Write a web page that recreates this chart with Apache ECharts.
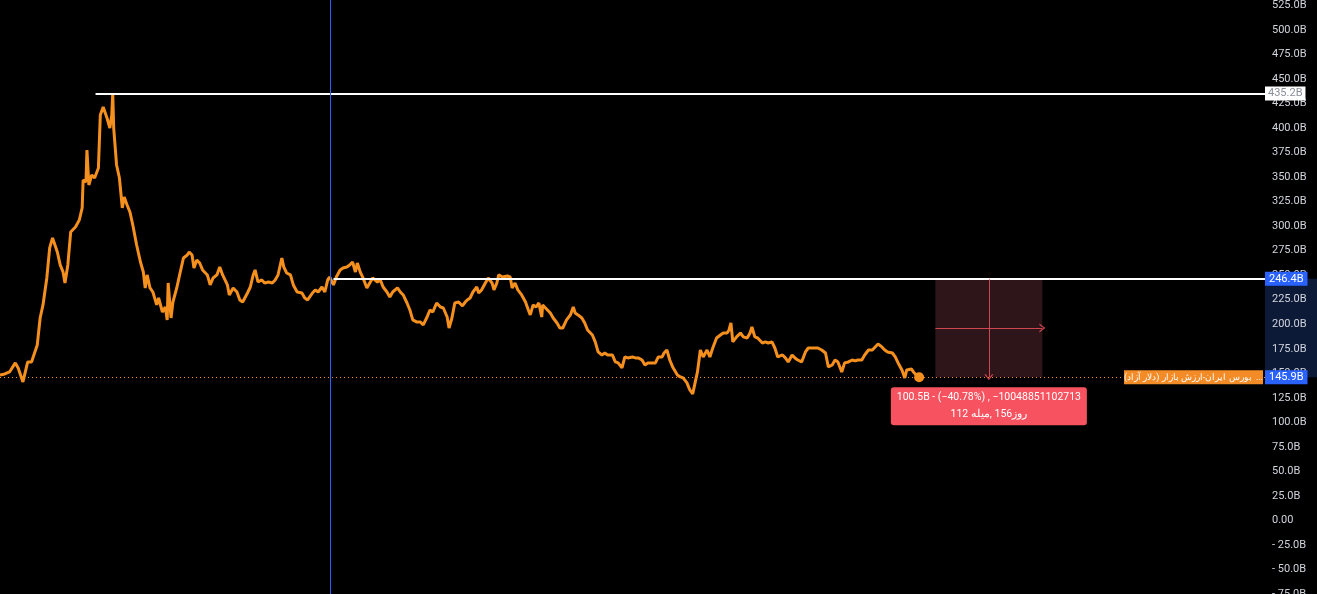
<!DOCTYPE html>
<html>
<head>
<meta charset="utf-8">
<script src="https://cdn.jsdelivr.net/npm/echarts@6/dist/echarts.min.js"></script>
<style>
html,body{margin:0;padding:0;background:#000;}
#chart{width:1317px;height:594px;}
</style>
</head>
<body>
<div id="chart"></div>
<script>
// bar index (time) of each sampled point
const barIndex = [0,5,10,16,19,24,29,33,39,42,45,49,52,55,60,63,66,68,71,74,79,83,86,87,90,91,93,96,99,103,105,108,112,115,117,118,119,122,125,128,130,133,136,139,143,147,150,152,154,157,160,164,166,170,173,175,176,179,181,185,188,192,196,198,201,203,206,209,212,217,220,223,227,230,233,238,240,
244,248,251,254,259,262,265,267,270,274,277,281,285,288,291,295,297,300,304,307,311,316,319,322,327,330,333,337,340,343,345,349,352,356,359,363,366,369,372,374,377,380,384,387,390,395,398,401,405,408,411,416,419,422,426,429,432,436,440,443,447,450,453,457,461,464,468,470,473,476,480,
484,487,489,492,495,499,501,504,508,511,515,517,520,522,526,531,534,536,539,542,546,550,553,555,558,561,564,567,568,573,576,579,583,586,589,593,597,600,602,605,609,612,615,620,623,626,630,633,636,641,644,647,651,654,657,662,665,668,672,675,678,682,686,689,693,695,698,701,704,709,712,715,719,722,725,730,733,736,740,743,746,750,754,757,761,763,765,767,771,
775,778,782,785,787,790,793,798,801,804,808,811,814,819,822,825,829,832,835,839,843,846,850,853,856,860,864,867,871,874,877,881,884,888,892,895,898,902,905,909,913,916,919,923,926,929,934,937,940,944,947,949,954,956,959,962];
// market value (billion USD)
const marketCap = [148.3,149.3,151.4,160.6,155.5,141.2,161.6,161.6,178.9,206.4,219.7,247.2,277.8,288.0,273.7,260.5,253.3,242.1,260.5,294.1,299.2,306.3,318.6,347.1,345.1,377.7,342.0,352.2,349.1,359.3,413.4,421.5,410.3,400.1,413.4,435.2,400.1,362.4,349.1,318.6,329.8,321.6,314.5,301.2,280.8,263.5,253.3,237.0,250.3,237.0,232.9,219.7,226.8,212.5,217.6,204.4,242.1,206.4,222.7,237.0,250.3,267.6,270.6,273.7,270.6,257.4,265.6,262.5,255.4,250.3,240.1,247.2,250.3,258.4,250.3,240.1,229.9,
237.0,232.9,224.8,222.7,231.9,238.0,250.3,255.4,243.1,245.2,242.1,243.1,242.1,245.2,250.3,267.6,258.4,252.3,250.3,240.1,232.9,231.9,226.8,224.8,231.9,235.0,232.9,238.0,232.9,245.2,248.2,240.1,248.2,255.4,257.4,258.4,260.5,263.5,253.3,262.5,253.3,247.2,237.0,242.1,247.2,243.1,245.2,238.0,232.9,227.8,232.9,237.0,232.9,229.9,221.7,214.6,204.4,202.4,202.4,199.3,207.4,214.6,212.5,221.7,217.6,216.6,207.4,196.2,206.4,221.7,222.7,
218.7,222.7,224.8,226.8,232.9,238.0,231.9,235.0,242.1,247.2,242.1,235.0,242.1,250.3,248.2,249.2,248.2,237.0,242.1,235.0,229.9,222.7,214.6,209.5,219.7,217.6,221.7,207.4,219.7,214.6,211.5,206.4,201.3,196.2,196.2,204.4,209.5,217.6,211.5,209.5,206.4,201.3,194.2,189.1,182.0,171.8,168.7,170.7,168.7,168.7,161.6,160.6,155.5,166.7,165.7,166.7,165.7,165.7,163.6,158.5,160.6,160.6,160.6,166.7,166.7,170.7,173.8,163.6,156.5,148.3,146.3,145.3,140.2,133.0,129.0,151.4,173.8,166.7,173.8,166.7,175.8,186.0,189.1,191.1,191.1,194.2,201.3,182.0,187.1,
191.1,187.1,186.0,191.1,197.3,187.1,186.0,180.9,182.0,180.9,182.0,175.8,166.7,168.7,165.7,161.6,168.7,165.7,163.6,161.6,171.8,175.8,175.8,175.8,175.8,173.8,170.7,156.5,158.5,163.6,161.6,151.4,160.6,161.6,163.6,162.6,163.6,163.6,168.7,173.8,173.8,176.9,179.9,176.9,173.8,171.8,170.7,166.7,160.6,153.4,145.3,153.4,154.4,151.4,148.3,145.9];

// annotation levels / bars
const levelHigh = 435.2, levelMid = 246.4, levelLast = 145.9;
const highStartBar = 100, midStartBar = 349, cursorBar = 346;
const measureStartBar = 979, measureEndBar = 1091;
const xMaxBar = 1324;
const yTicks = { min: -75, max: 530.6, interval: 25 };

// Persian texts, split into pieces in their on-screen (left-to-right) order
const seriesNamePieces = ['(دلار آزاد)', ' بازار ', 'ایران-ارزش', ' بورس ', ' ...'];
const measureLine1 = '100.5B - (\u221240.78%) , \u221210048851102713';
const measureLine2Pieces = ['112 ', 'میله', ', 156', 'روز'];

const ORANGE = '#f5901e';
const BLUE = '#2962ff';
const RED = '#f7525f';

const lineData = barIndex.map((b, i) => [b, marketCap[i]]);
const last = lineData[lineData.length - 1];
const mid = (measureStartBar + measureEndBar) / 2;
const midVal = (levelMid + levelLast) / 2;
const chevron = 'path://M0,10 L5,0 L10,10 L8.4,10 L5,3.2 L1.6,10 Z';

const richPieces = (pieces) => pieces.map((p, i) => '{p' + i + '|' + p + '}').join('');
const richStyles = (pieces, style) => {
  const r = {};
  pieces.forEach((p, i) => { r['p' + i] = Object.assign({}, style); });
  return r;
};

const chart = echarts.init(document.getElementById('chart'), null, {renderer: 'canvas'});
const option = {
  backgroundColor: '#000',
  animation: false,
  grid: {left: 0, right: 52, top: 0, bottom: 0, outerBoundsMode: 'none', containLabel: false},
  xAxis: {type: 'value', min: 0, max: xMaxBar, show: false, splitLine: {show: false}},
  yAxis: {
    type: 'value', position: 'right', min: yTicks.min, max: yTicks.max, interval: yTicks.interval,
    axisLine: {show: false}, axisTick: {show: false},
    splitLine: {show: false},
    axisLabel: {
      color: '#d1d4dc', fontSize: 11, fontFamily: 'Roboto', margin: 7, showMaxLabel: false,
      formatter: v => {
        if (Math.abs(v) < 1e-9) return '0.00';
        const s = Math.abs(v).toFixed(1) + 'B';
        return v < 0 ? '- ' + s : s;
      }
    }
  },
  series: [
    {
      type: 'line', data: lineData, showSymbol: false, silent: true,
      lineStyle: {color: ORANGE, width: 3}, itemStyle: {color: ORANGE},
      markArea: {
        silent: true,
        itemStyle: {color: '#2e1519'},
        data: [[{coord: [measureStartBar, levelMid]}, {coord: [measureEndBar, levelLast]}]]
      },
      markLine: {
        silent: true, symbol: ['none', 'none'], animation: false,
        data: [
          [{coord: [highStartBar, levelHigh], lineStyle: {color: '#ffffff', width: 2, type: 'solid'},
            label: {show: true, position: 'end', distance: 0, formatter: levelHigh.toFixed(1) + 'B', color: '#8a8e99', backgroundColor: '#ffffff', padding: [2, 3, 1, 3], fontSize: 11, fontFamily: 'Roboto'}},
           {coord: [xMaxBar, levelHigh]}],
          [{coord: [midStartBar, levelMid], lineStyle: {color: '#ffffff', width: 2, type: 'solid'},
            label: {show: true, position: 'end', distance: 0, formatter: levelMid.toFixed(1) + 'B', color: '#ffffff', backgroundColor: BLUE, padding: [2, 4, 1, 4], fontSize: 11, fontFamily: 'Roboto'}},
           {coord: [xMaxBar, levelMid]}],
          [{coord: [0, levelLast], lineStyle: {color: ORANGE, width: 1, type: [1, 3], opacity: 1},
            label: {show: true, position: 'end', distance: 0, formatter: levelLast.toFixed(1) + 'B', color: '#ffffff', backgroundColor: BLUE, padding: [2, 4, 1, 4], fontSize: 11, fontFamily: 'Roboto'}},
           {coord: [xMaxBar, levelLast]}],
          {xAxis: cursorBar, lineStyle: {color: BLUE, width: 1, type: 'solid'}, label: {show: false}},
          [{coord: [mid, levelMid], symbol: 'none', lineStyle: {color: 'rgba(247,82,95,0.8)', width: 1, type: 'solid'}, label: {show: false}},
           {coord: [mid, levelLast], symbol: chevron, symbolSize: [9, 6]}],
          [{coord: [measureStartBar, midVal], symbol: 'none', lineStyle: {color: 'rgba(247,82,95,0.8)', width: 1, type: 'solid'}, label: {show: false}},
           {coord: [measureEndBar, midVal], symbol: chevron, symbolSize: [9, 6]}]
        ]
      },
      markPoint: {
        silent: true, animation: false,
        data: [{
          coord: [mid, levelLast], symbol: 'circle', symbolSize: 0,
          label: {show: true, position: 'inside', offset: [0, 29], color: '#ffffff', fontSize: 10.5, fontFamily: 'Roboto',
            lineHeight: 17, width: 188, align: 'center', verticalAlign: 'middle', padding: [2, 4],
            backgroundColor: RED, borderRadius: 3,
            formatter: measureLine1 + '\n' + richPieces(measureLine2Pieces),
            rich: richStyles(measureLine2Pieces, {color: '#ffffff', fontSize: 10.5, fontFamily: 'Roboto', lineHeight: 17})}
        }]
      },
      z: 3
    },
    {
      type: 'scatter', data: [last], symbolSize: 10, silent: true,
      itemStyle: {color: ORANGE, opacity: 1}, z: 4
    }
  ]
};
chart.setOption(option);

const pMid = chart.convertToPixel({gridIndex: 0}, [xMaxBar, levelMid]);
const pLast = chart.convertToPixel({gridIndex: 0}, [xMaxBar, levelLast]);
chart.setOption({
  graphic: [
    {type: 'rect', z: -1, silent: true,
     shape: {x: pMid[0], y: pMid[1], width: 1317 - pMid[0], height: pLast[1] - pMid[1]},
     style: {fill: '#0c1a38'}},
    {type: 'rect', z: 50, silent: true,
     shape: {x: pLast[0] - 141, y: pLast[1] - 7, width: 139, height: 14},
     style: {fill: '#f38b27'}},
    {type: 'text', z: 51, silent: true,
     x: pLast[0] - 71.5, y: pLast[1] + 0.5,
     style: {text: richPieces(seriesNamePieces), fill: '#ffffff', fontSize: 9, fontFamily: 'Roboto',
       align: 'center', verticalAlign: 'middle',
       rich: richStyles(seriesNamePieces, {fill: '#ffffff', fontSize: 9, fontFamily: 'Roboto'})}}
  ]
});
</script>
</body>
</html>
